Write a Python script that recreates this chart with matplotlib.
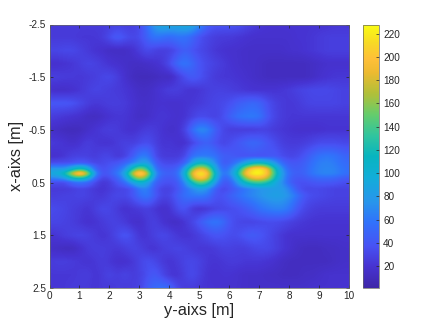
import numpy as np
import matplotlib
matplotlib.use('Agg')
import matplotlib.pyplot as plt
from matplotlib.colors import LinearSegmentedColormap

plt.rcParams['font.family'] = ['Liberation Sans', 'DejaVu Sans']

x_ticks = [0, 1, 2, 3, 4, 5, 6, 7, 8, 9, 10]
y_ticks = [-2.5, -1.5, -0.5, 0.5, 1.5, 2.5]
cbar_ticks = [20, 40, 60, 80, 100, 120, 140, 160, 180, 200, 220]
x_label = 'y-aixs [m]'
y_label = 'x-aixs [m]'

# Estimated intensity. Columns: y-axis 0..10 step 0.25. Rows at row_pos (finer around the peaks).
col_pos = np.arange(41) * 0.25
row_pos = [-2.5, -2.25, -2.0, -1.75, -1.5, -1.25, -1.0, -0.75, -0.5, -0.25, 0.0,
           0.125, 0.25, 0.33, 0.42, 0.5, 0.625, 0.75,
           1.0, 1.25, 1.5, 1.75, 2.0, 2.25, 2.5]
intensity = np.array([
 [24,24,24,24,24, 24,24,24,26,28, 26,26,32,56,82, 95,92,90,98,92, 70,46,38,40,39, 38,32,26,22,20, 19,19,20,20,20, 20,20,20,22,22, 22],
 [24,24,24,24,22, 22,22,24,34,44, 36,30,34,48,60, 56,52,58,58,50, 36,30,26,24,24, 22,20,18,18,18, 18,18,18,20,20, 22,24,26,26,26, 26],
 [30,30,32,32,28, 24,20,18,14,14, 14,18,26,34,28, 26,28,36,48,38, 32,28,22,20,18, 18,16,16,16,16, 16,16,18,18,20, 22,24,26,26,26, 26],
 [18,18,20,22,26, 30,28,24,20,18, 16,14,14,16,18, 22,34,52,60,50, 38,32,28,24,20, 18,16,16,14,12, 12,12,12,12,12, 14,16,18,18,18, 18],
 [26,26,24,24,22, 24,26,30,32,26, 18,12,10,10,11, 14,12,24,36,44, 38,30,24,22,22, 20,18,16,14,12, 12,12,12,12,12, 14,18,20,22,22, 22],
 [18,16,16,18,22, 26,30,28,26,24, 22,18,14,14,18, 22,26,26,22,20, 22,26,28,28,26, 24,22,20,20,20, 20,22,24,28,30, 32,32,32,30,28, 28],
 [40,40,40,38,32, 26,22,24,26,26, 24,20,16,16,18, 20,18,18,20,22, 24,28,30,32,36, 44,48,52,48,36, 28,24,22,24,28, 30,30,30,30,28, 28],
 [26,24,22,20,18, 14,12,16,20,22, 22,18,14,16,20, 22,20,18,20,28, 34,32,28,34,46, 56,60,62,58,40, 30,24,22,22,22, 22,22,22,22,22, 22],
 [16,14,11,10,11, 16,20,24,26,24, 20,18,22,26,24, 20,16,18,28,54, 72,66,46,32,26, 26,26,26,28,28, 24,22,20,18,18, 18,18,20,20,20, 20],
 [24,22,20,16,20, 26,22,20,20,24, 28,26,32,36,28, 20,22,18,18,30, 42,48,38,30,34, 40,46,52,48,40, 34,26,24,24,26, 30,34,34,34,32, 32],
 [18,18,22,28,28, 28,24,30,30,22, 28,42,62,64,34, 24,24,24,30,58, 62,62,58,44,44, 40,38,40,38,40, 42,34,30,32,40, 50,58,60,58,50, 48],
 [32,34,34,36,42, 38,30,32,36,38, 48,62,82,85,46, 32,32,32,46,85, 115,100,72,42,46, 62,85,105,112,100, 76,50,40,40,46, 56,64,66,62,54, 52],
 [80,82,80,110,135, 110,52,34,42,54, 70,125,170,135,60, 42,42,46,85,160, 195,175,95,48,62, 100,170,212,222,195, 120,72,46,44,48, 60,66,68,66,58, 54],
 [92,95,120,180,228, 175,72,36,44,60, 85,175,228,180,70, 48,46,50,100,190, 228,205,110,54,68, 115,195,226,228,205, 130,78,50,44,48, 60,66,68,66,58, 54],
 [65,68,80,115,125, 105,50,28,34,48, 72,130,175,140,60, 42,40,46,85,170, 205,185,100,46,54, 95,155,190,195,175, 115,76,46,40,42, 48,52,52,50,44, 42],
 [34,34,34,52,60, 52,34,20,26,40, 52,85,110,90,48, 38,36,40,70,120, 155,135,80,40,42, 78,115,135,140,125, 95,72,46,36,36, 40,42,42,40,36, 34],
 [24,24,24,26,30, 28,22,20,24,30, 30,38,64,66,40, 28,28,38,55,70, 85,75,46,30,38, 50,60,68,76,78, 82,80,64,40,32, 32,32,30,28,28, 28],
 [26,26,28,28,30, 28,24,22,28,32, 30,38,54,62,42, 28,30,44,56,60, 62,58,38,36,46, 54,62,68,74,80, 84,82,72,56,38, 34,32,30,28,28, 28],
 [34,32,30,26,24, 20,26,32,30,24, 18,22,24,28,22, 16,20,34,40,24, 20,24,30,32,34, 36,42,48,58,62, 66,66,58,40,30, 26,24,24,24,24, 24],
 [30,30,28,26,22, 18,20,24,28,28, 24,18,16,24,28, 20,16,14,22,30, 42,54,60,54,38, 32,30,30,32,34, 34,32,28,24,22, 20,20,20,20,20, 20],
 [20,22,26,28,30, 28,24,20,24,32, 40,32,20,22,28, 32,28,22,20,22, 28,34,40,38,34, 34,40,44,40,34, 28,22,18,18,18, 18,18,18,18,18, 18],
 [16,14,12,12,18, 24,26,26,24,22, 26,30,28,22,20, 26,28,30,28,24, 22,22,24,28,28, 26,26,30,32,32, 28,22,18,14,12, 12,12,14,14,16, 16],
 [24,26,26,24,22, 20,22,26,22,18, 18,22,30,36,32, 24,20,24,30,32, 28,22,20,22,24, 24,22,22,22,20, 18,14,12,12,12, 12,12,12,14,16, 16],
 [22,22,22,22,24, 26,20,24,30,24, 30,24,28,36,44, 32,22,20,28,34, 26,20,18,20,20, 18,16,16,16,14, 14,12,12,12,14, 14,16,18,18,18, 18],
 [22,22,22,24,24, 24,20,24,22,26, 24,26,28,44,52, 56,50,30,24,26, 22,20,20,18,18, 18,16,16,16,16, 16,16,16,16,16, 18,18,18,18,20, 20],
], dtype=float)

parula_stops = [
 (0.00, (0.2422,0.1504,0.6603)), (0.08, (0.2780,0.2000,0.8200)),
 (0.16, (0.2810,0.3228,0.9579)), (0.25, (0.1900,0.4500,0.9850)),
 (0.33, (0.1540,0.5902,0.9218)), (0.42, (0.0700,0.6800,0.8500)),
 (0.50, (0.0297,0.7082,0.7500)), (0.58, (0.1900,0.7700,0.6200)),
 (0.66, (0.4000,0.8000,0.4200)), (0.74, (0.7000,0.7500,0.2200)),
 (0.82, (0.9300,0.7300,0.1900)), (0.87, (0.9950,0.7500,0.2200)),
 (0.93, (0.9700,0.8500,0.1500)), (1.00, (0.9769,0.9839,0.0805)),
]
parula = LinearSegmentedColormap.from_list('parula', parula_stops, N=256)

# resample the irregular rows on a regular grid so the image can be smoothed
fine_rows = np.linspace(-2.5, 2.5, 161)
grid = np.column_stack([np.interp(fine_rows, row_pos, intensity[:, j])
                        for j in range(intensity.shape[1])])

fig = plt.figure(figsize=(4.36, 3.27), dpi=100)
W, H = 436.0, 327.0
ax = fig.add_axes([49.5/W, 1-288/H, 299.5/W, 263.5/H])
dx, dy = col_pos[1] - col_pos[0], fine_rows[1] - fine_rows[0]
im = ax.imshow(grid, cmap=parula, vmin=1, vmax=228, aspect='auto',
               interpolation='bicubic', interpolation_stage='data',
               extent=[-dx/2, 10+dx/2, 2.5+dy/2, -2.5-dy/2])
ax.set_xlim(0, 10)
ax.set_ylim(2.5, -2.5)
ax.set_xticks(x_ticks)
ax.set_yticks(y_ticks)
ax.set_yticklabels([f'{v:g}' for v in y_ticks])
ax.tick_params(direction='in', length=2.5, width=0.5, top=True, right=True,
               labelsize=7.2, colors='#262626', pad=2.5)
for s in ax.spines.values():
    s.set_linewidth(0.5); s.set_color('#666666')
ax.set_xlabel(x_label, fontsize=11.8, color='#262626', labelpad=1)
ax.set_ylabel(y_label, fontsize=11.8, color='#262626', labelpad=3)

cax = fig.add_axes([362.5/W, 1-288/H, 16.5/W, 263.5/H])
cb = fig.colorbar(im, cax=cax)
cb.set_ticks(cbar_ticks)
cb.ax.tick_params(direction='in', length=2, width=0.5, labelsize=7.2, colors='#262626', pad=3)
cb.outline.set_linewidth(0.5); cb.outline.set_edgecolor('#666666')
fig.savefig('out.png', dpi=100)
